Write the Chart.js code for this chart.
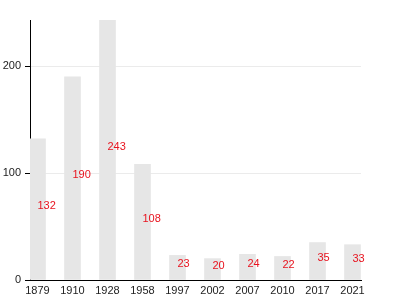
<!DOCTYPE html>
<html>
<head>
<meta charset="utf-8">
<script src="https://cdn.jsdelivr.net/npm/chart.js@4/dist/chart.umd.min.js"></script>
<style>
html,body{margin:0;padding:0;background:#fff;}
#wrap{width:400px;height:300px;position:relative;}
</style>
</head>
<body>
<div id="wrap"><canvas id="c" width="400" height="300"></canvas></div>
<script>
const years = ["1879","1910","1928","1958","1997","2002","2007","2010","2017","2021"];
const values = [132,190,243,108,23,20,24,22,35,33];
const yTicks = [0,100,200];

const points = values.map((v,i)=>({x:i,y:v}));

const labelPlugin = {
  id:'valueLabels',
  afterDatasetsDraw(chart){
    const ctx = chart.ctx;
    const meta = chart.getDatasetMeta(0);
    ctx.save();
    ctx.font = '11px "Liberation Sans", Arial, sans-serif';
    ctx.fillStyle = '#e8141f';
    ctx.textAlign = 'left';
    ctx.textBaseline = 'middle';
    meta.data.forEach((el,i)=>{
      const mid = (el.y + el.base)/2 - 3;
      ctx.fillText(String(values[i]), el.x, mid);
    });
    ctx.restore();
  }
};

new Chart(document.getElementById('c'),{
  type:'bar',
  data:{datasets:[{data:points,backgroundColor:'#e6e6e6',borderWidth:0,barThickness:16}]},
  options:{
    responsive:false,
    animation:false,
    layout:{padding:{left:0,right:39,top:20,bottom:0}},
    plugins:{legend:{display:false},tooltip:{enabled:false}},
    scales:{
      x:{
        type:'linear',
        min:-0.214,max:9.243,
        offset:false,
        afterBuildTicks(s){ s.ticks = years.map((_,i)=>({value:i})); },
        afterFit(s){ s.height = 20; },
        grid:{display:false,drawTicks:false},
        border:{display:true,color:'#000',width:1},
        ticks:{
          autoSkip:false,maxRotation:0,padding:4,color:'#222',
          font:{family:'"Liberation Sans", Arial, sans-serif',size:11},
          callback:(v)=>years[v]
        }
      },
      y:{
        min:0,max:243,
        afterBuildTicks(s){ s.ticks = yTicks.map(v=>({value:v})); },
        afterFit(s){ s.width = 30; },
        grid:{color:'#ebebeb',tickColor:'#000',tickLength:5,drawTicks:true},
        border:{display:true,color:'#000',width:1},
        ticks:{
          padding:4,color:'#222',
          font:{family:'"Liberation Sans", Arial, sans-serif',size:11}
        }
      }
    }
  },
  plugins:[labelPlugin]
});
</script>
</body>
</html>
